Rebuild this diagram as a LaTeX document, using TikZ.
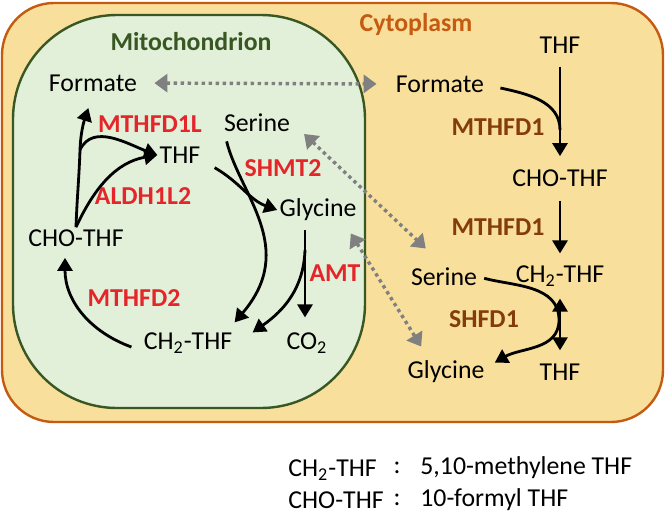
\documentclass[tikz,border=0pt]{standalone}
\usepackage{fontspec}
\setmainfont{Carlito}
\usetikzlibrary{arrows.meta,positioning}
\definecolor{cytofill}{RGB}{248,223,156}
\definecolor{cytoline}{RGB}{197,90,17}
\definecolor{mitofill}{RGB}{226,239,217}
\definecolor{mitoline}{RGB}{56,87,35}
\definecolor{enzred}{RGB}{228,38,42}
\definecolor{enzbrown}{RGB}{132,60,12}
\definecolor{carrier}{RGB}{128,128,128}

\begin{document}
\begin{tikzpicture}[x=0.5pt,y=-0.5pt,% one unit is one pixel of the figure, y downwards
    every node/.style={
      font=\fontsize{12.9}{15}\selectfont, % Calibri-like text everywhere
      inner sep=1pt
    },
    mito/.style={font=\fontsize{12.9}{15}\selectfont\bfseries,text=enzred},
    cyto/.style={font=\fontsize{12.9}{15}\selectfont\bfseries,text=enzbrown},
    rxn/.style={draw,line width=1.4pt,-{Triangle[length=6.5pt,width=7.5pt]}},
    shuttle/.style={draw=carrier,line width=1.7pt,dash pattern=on 1.7pt off 1.8pt,
      {Triangle[length=6.5pt,width=9pt]}-{Triangle[length=6.5pt,width=9pt]}}
  ]
  \useasboundingbox (0,0) rectangle (666,515);
  % compartments
  \draw[draw=cytoline,fill=cytofill,line width=1.2pt,rounded corners=26pt] (2,3) rectangle (663,422);
  \draw[draw=mitoline,fill=mitofill,line width=1.2pt,rounded corners=52pt] (13,15) rectangle (365,408);
  \node[font=\fontsize{12.9}{15}\selectfont\bfseries,text=mitoline](T1) at (191,42){Mitochondrion};
  \node[font=\fontsize{12.9}{15}\selectfont\bfseries,text=cytoline](T2) at (416,24){Cytoplasm};

  % mitochondrion
  \node(M1) at (93,83){Formate};
  \node(M2) at (257,123){Serine};
  \node(M3) at (180,155){THF};
  \node(M4) at (318,210){Glycine};
  \node(M5) at (76,238){CHO-THF};
  \node(M6) at (188,343){CH\textsubscript{2}-THF};
  \node(M7) at (307,343){CO\textsubscript{2}};
  \node[mito](E1) at (150,124){MTHFD1L};
  \node[mito](E2) at (143,196){ALDH1L2};
  \node[mito](E3) at (283,168){SHMT2};
  \node[mito](E4) at (134,298){MTHFD2};
  \node[mito](E5) at (335,273){AMT};

  % cytoplasm
  \node(C1) at (560,45){THF};
  \node(C2) at (440,84){Formate};
  \node(C3) at (560,178){CHO-THF};
  \node(C4) at (444,277){Serine};
  \node(C5) at (560,276){CH\textsubscript{2}-THF};
  \node(C6) at (446,372){Glycine};
  \node(C7) at (560,372){THF};
  \node[cyto](E6) at (498,127){MTHFD1};
  \node[cyto](E7) at (498,227){MTHFD1};
  \node[cyto](E8) at (484,319){SHFD1};

  % legend
  \node[anchor=west](K1) at (286,470){CH\textsubscript{2}-THF};
  \node(K2) at (397,468){:};
  \node[anchor=west](K3) at (418,468){5,10-methylene THF};
  \node[anchor=west](K4) at (286,500){CHO-THF};
  \node(K5) at (397,500){:};
  \node[anchor=west](K6) at (418,500){10-formyl THF};

  % branch points
  \coordinate (b1) at (80,150);
  \coordinate (g1) at (305,250);
  \coordinate (j1) at (560,130);
  \coordinate (v1) at (559,320);

  \draw[rxn,shorten >=7.5pt] (M5.north) to[out=88,in=-92] (b1) to[out=88,in=-108] (M1.south);
  \draw[rxn] (b1) to[out=65,in=160] (M3.west);
  \draw[rxn] (M5.north) to[out=65,in=190] (M3.west);
  \draw[rxn] ([xshift=-5pt,yshift=-2pt]M6.west) to[out=160,in=-90] ([xshift=-5.5pt,yshift=-4.5pt]M5.south);
  \draw[rxn] ([xshift=6pt,yshift=-1pt]M3.south east) to[out=-30,in=160] (M4.west);
  \draw[rxn] ([xshift=2.5pt,yshift=-3.5pt]M2.south west) .. controls (240,195) and (298,248) .. ([yshift=4pt]M6.north east);
  \draw[rxn,shorten <=3.5pt,shorten >=6.5pt] (M4.south -| g1) -- (M7.north -| g1);
  \draw[rxn] (g1) to[out=-92,in=35] ([xshift=9pt,yshift=-1pt]M6.north east);
  % exchange between compartments
  \draw[shuttle,shorten <=7.5pt,shorten >=8.5pt] (M1.east) -- (C2.west);
  \draw[shuttle,shorten <=8pt,shorten >=12.5pt] (M2.east) -- (C4.north);
  \draw[shuttle] ([xshift=-4pt,yshift=-5pt]M4.south east) -- ([xshift=8pt,yshift=6pt]C6.north west);
  % cytoplasm
  \path[rxn]
  (C1)edge [shorten <=5.5pt,shorten >=5.5pt] (C3)
  (C3)edge [shorten <=6pt,shorten >=5pt] (C5)
  (C5)edge [shorten <=5pt,shorten >=5.5pt,{Triangle[length=6.5pt,width=7.5pt]}-{Triangle[length=6.5pt,width=7.5pt]}] (C7)
  ;
  \draw[rxn,-] ([xshift=7pt,yshift=-2pt]C2.east) to[out=-12,in=90] (j1);
  \draw[rxn,shorten <=2.5pt] (C4.east) to[out=-15,in=90] (v1) to[out=-90,in=30] ([xshift=4pt,yshift=-2pt]C6.north east);
\end{tikzpicture}
\end{document}
